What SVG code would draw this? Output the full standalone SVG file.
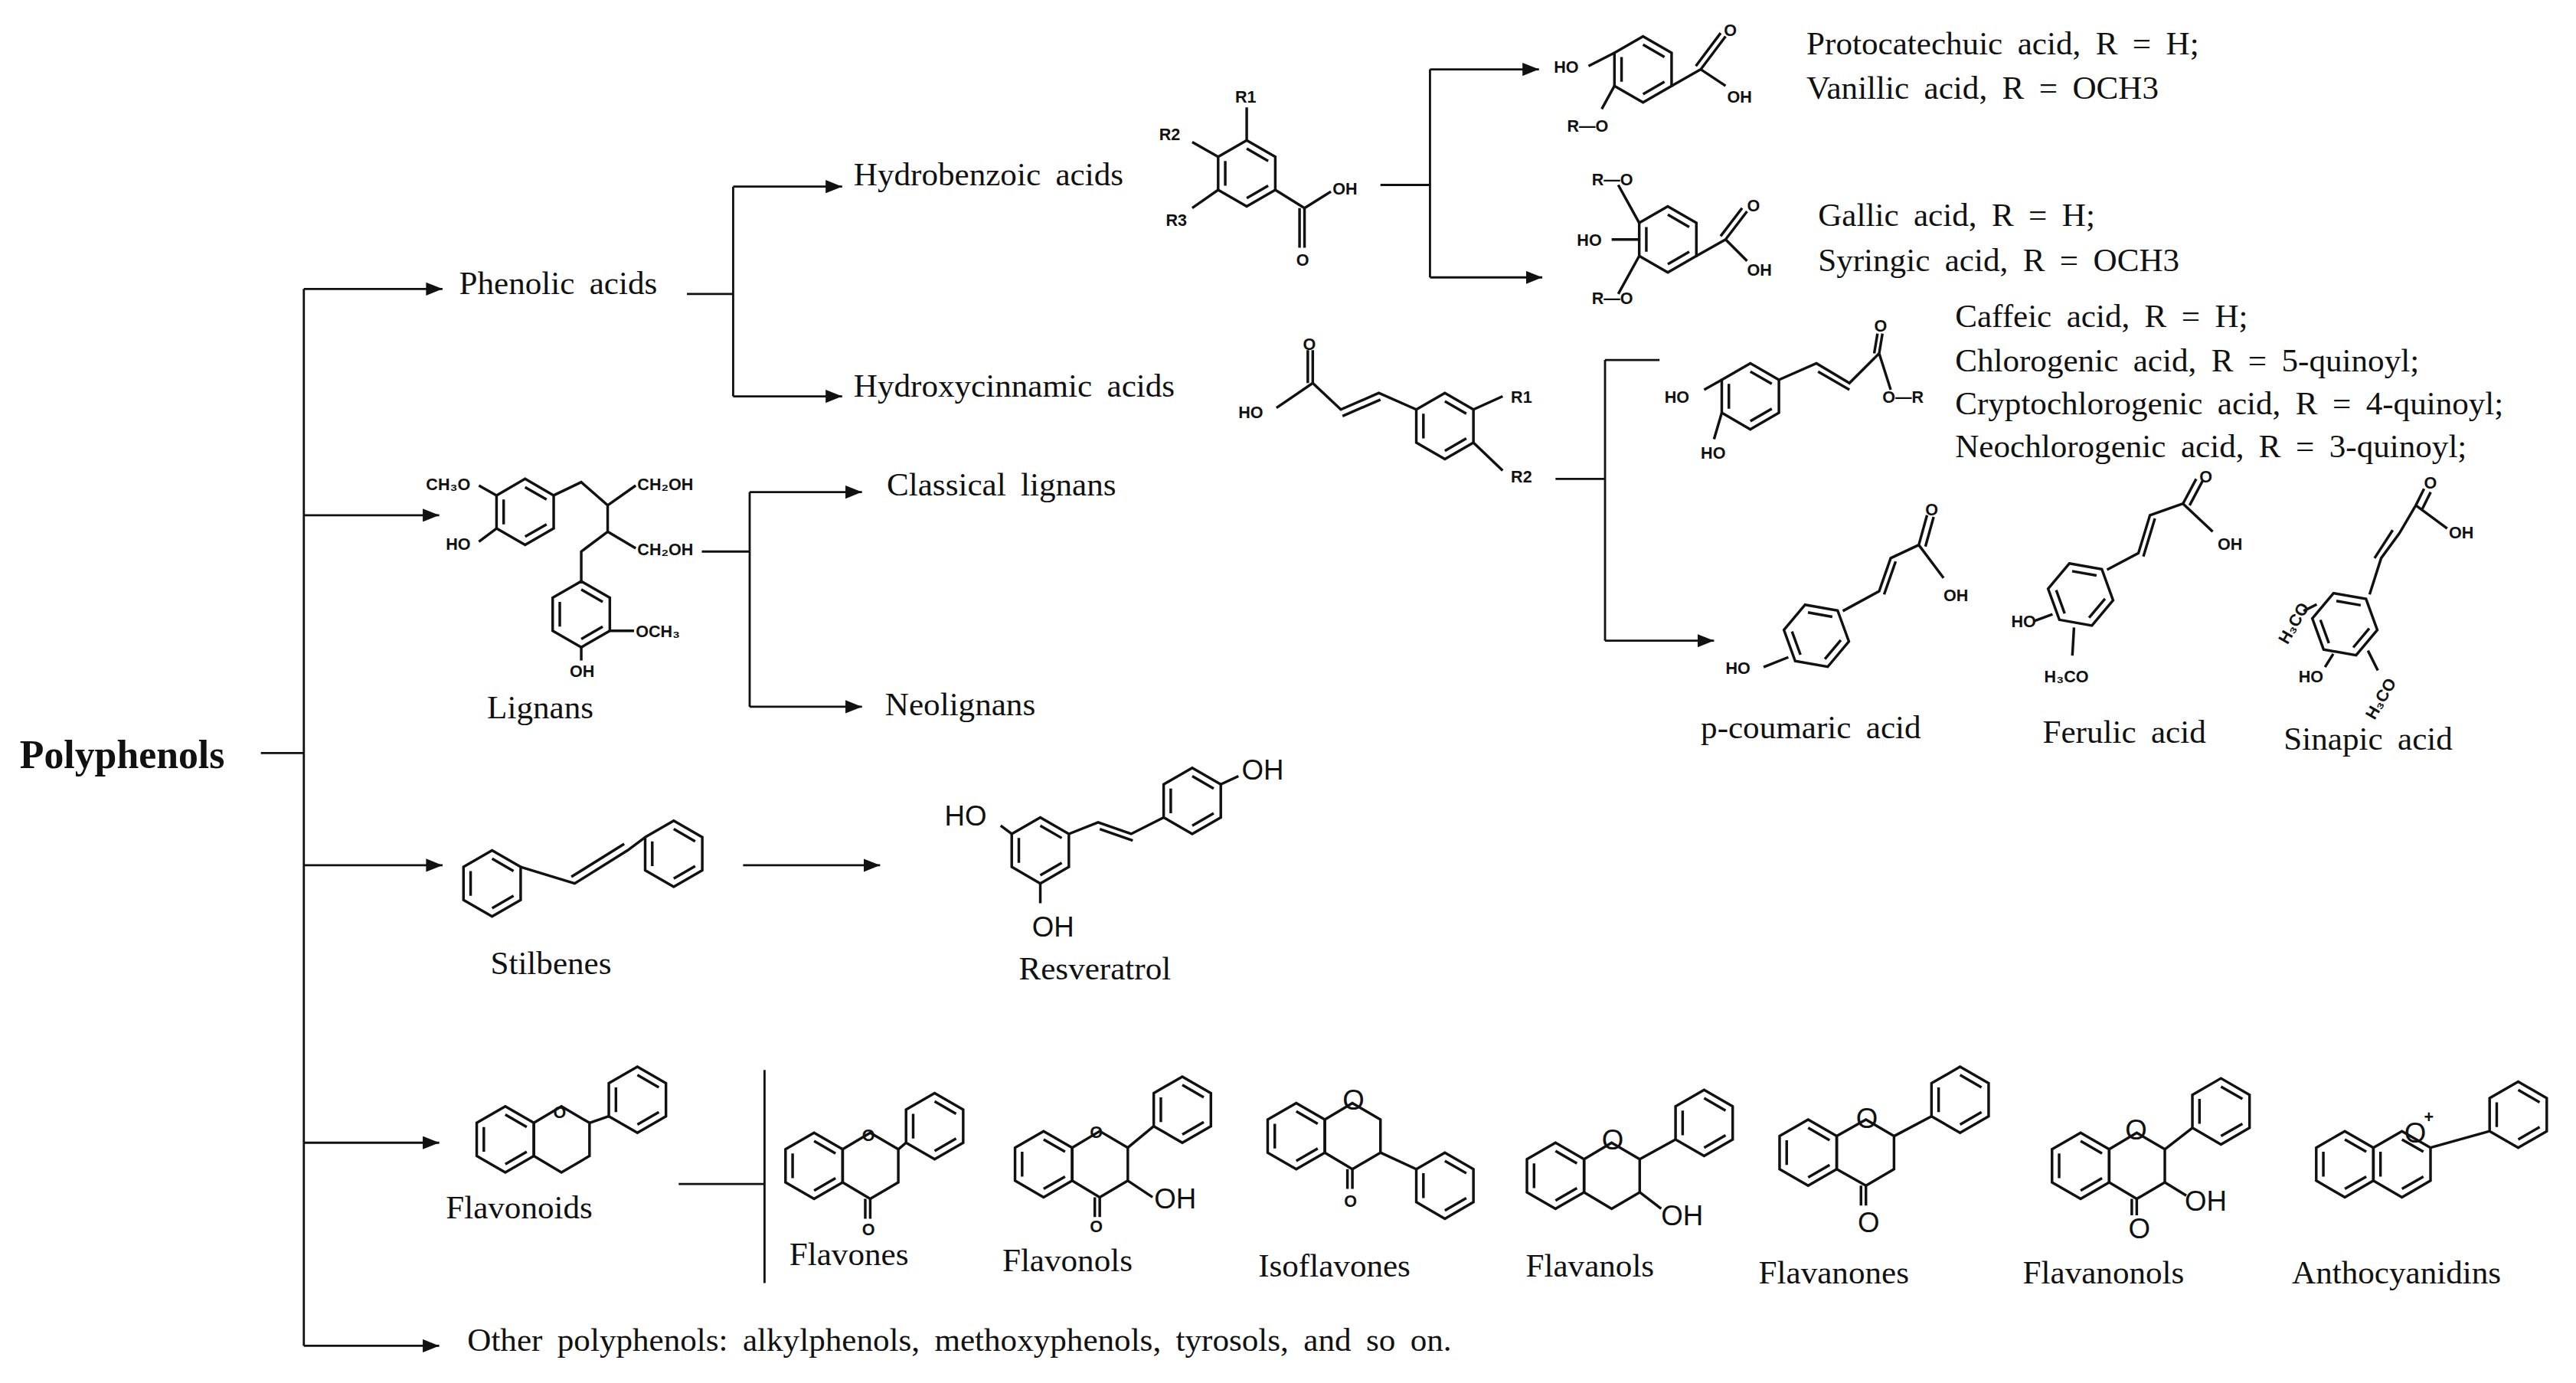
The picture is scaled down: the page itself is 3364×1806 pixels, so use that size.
<svg xmlns="http://www.w3.org/2000/svg" xmlns:xlink="http://www.w3.org/1999/xlink" width="3364" height="1806" viewBox="0 0 3364 1806">
<style>
.t{font-family:"Liberation Serif",serif;font-size:20px;word-spacing:4px;fill:#111}
.b{font-family:"Liberation Serif",serif;font-size:24px;font-weight:bold;fill:#111}
.s{font-family:"Liberation Sans",sans-serif;font-size:10px;font-weight:bold;fill:#111}
.m{font-family:"Liberation Sans",sans-serif;font-size:17px;fill:#111}
.ln{stroke:#111;stroke-width:1.3;fill:none}
.bd{stroke:#111;stroke-width:1.6;fill:none}
</style>
<defs>
<marker id="ar" markerUnits="userSpaceOnUse" markerWidth="10" markerHeight="8" refX="10" refY="4" orient="auto"><path d="M0,0 L10,4 L0,8 z" fill="#111"/></marker>
<g id="hx"><polygon points="0,-20 17.3,-10 17.3,10 0,20 -17.3,10 -17.3,-10" class="bd"/><path d="M0,-15 L13,-7.5 M13,7.5 L0,15 M-13,7.5 L-13,-7.5" class="bd"/></g>
</defs>
<rect width="3364" height="1806" fill="#fff"/>
<g transform="scale(2.1564)">
<g id="connectors">
<path class="ln" d="M158,456 H184 M184,175 V815"/>
<path class="ln" marker-end="url(#ar)" d="M184,175 H268"/>
<path class="ln" marker-end="url(#ar)" d="M184,312 H266"/>
<path class="ln" marker-end="url(#ar)" d="M184,524 H268"/>
<path class="ln" marker-end="url(#ar)" d="M184,692 H266"/>
<path class="ln" marker-end="url(#ar)" d="M184,815 H266"/>
<path class="ln" d="M416,178 H444 M444,113 V240"/>
<path class="ln" marker-end="url(#ar)" d="M444,113 H510"/>
<path class="ln" marker-end="url(#ar)" d="M444,240 H510"/>
<path class="ln" d="M836,112 H866 M866,42 V168"/>
<path class="ln" marker-end="url(#ar)" d="M866,42 H932"/>
<path class="ln" marker-end="url(#ar)" d="M866,168 H934"/>
<path class="ln" d="M942,290 H972 M972,218 V388 M972,218 H1005"/>
<path class="ln" marker-end="url(#ar)" d="M972,388 H1038"/>
<path class="ln" d="M425,334 H454 M454,298 V428"/>
<path class="ln" marker-end="url(#ar)" d="M454,298 H522"/>
<path class="ln" marker-end="url(#ar)" d="M454,428 H522"/>
<path class="ln" marker-end="url(#ar)" d="M450,524 H533"/>
<path class="ln" d="M411,717 H463 M463,648 V777"/>
</g>
<g id="polyphenols"><text class="b" x="12" y="465">Polyphenols</text></g>
<g id="phenolic"><text class="t" x="278" y="178">Phenolic acids</text></g>
<g id="hydrobenzoic"><text class="t" x="517" y="112">Hydrobenzoic acids</text>
<use href="#hx" x="755" y="105"/>
<path class="bd" d="M755,85 L755,65 M737.7,95 L722,86 M737.7,115 L722,126 M772.3,115 L790,126 M790,126 L806,116 M790,126 L790,150 M787,126 L787,150"/>
<text class="s" x="748" y="62">R1</text><text class="s" x="702" y="85">R2</text><text class="s" x="706" y="137">R3</text><text class="s" x="807" y="118">OH</text><text class="s" x="785" y="161">O</text>
</g>
<g id="protocatechuic">
<use href="#hx" x="995" y="42"/>
<path class="bd" d="M977.7,32 L962,40 M977.7,52 L970,66 M1012.3,52 L1030,42 M1030,42 L1045,52 M1030,42 L1045,22 M1027,40 L1042,20"/>
<text class="s" x="941" y="44">HO</text><text class="s" x="949" y="80">R—O</text><text class="s" x="1046" y="62">OH</text><text class="s" x="1044" y="22">O</text>
<text class="t" x="1094" y="33">Protocatechuic acid, R = H;</text>
<text class="t" x="1094" y="60">Vanillic acid, R = OCH3</text>
</g>
<g id="gallic">
<use href="#hx" x="1010" y="145"/>
<path class="bd" d="M992.7,135 L980,112 M992.7,155 L980,178 M992.7,145 L976,145 M1027.3,155 L1045,145 M1045,145 L1058,158 M1045,145 L1058,128 M1042,143 L1055,126"/>
<text class="s" x="964" y="112">R—O</text><text class="s" x="955" y="149">HO</text><text class="s" x="964" y="184">R—O</text><text class="s" x="1058" y="167">OH</text><text class="s" x="1058" y="128">O</text>
<text class="t" x="1101" y="137">Gallic acid, R = H;</text>
<text class="t" x="1101" y="164">Syringic acid, R = OCH3</text>
</g>
<g id="hydroxycinnamic"><text class="t" x="517" y="240">Hydroxycinnamic acids</text>
<use href="#hx" x="875" y="258"/>
<path class="bd" d="M857.7,248 L835,238 L812,248 L795,232 M836,242 L813,252 M795,232 L773,247 M795,232 L795,212 M792,232 L792,212 M892.3,248 L910,240 M892.3,268 L910,285"/>
<text class="s" x="750" y="253">HO</text><text class="s" x="789" y="212">O</text><text class="s" x="915" y="244">R1</text><text class="s" x="915" y="292">R2</text>
</g>
<g id="caffeic">
<use href="#hx" x="1060" y="240"/>
<path class="bd" d="M1077.3,230 L1100,220 L1120,232 L1138,214 M1101,225 L1120,236 M1138,214 L1140,202 M1135,214 L1137,202 M1138,214 L1145,236"/>
<path class="bd" d="M1042.7,230 L1032,236 M1042.7,250 L1038,266"/>
<text class="s" x="1008" y="244">HO</text><text class="s" x="1030" y="278">HO</text><text class="s" x="1135" y="201">O</text><text class="s" x="1140" y="244">O—R</text>
<text class="t" x="1184" y="198">Caffeic acid, R = H;</text>
<text class="t" x="1184" y="225">Chlorogenic acid, R = 5-quinoyl;</text>
<text class="t" x="1184" y="251">Cryptochlorogenic acid, R = 4-quinoyl;</text>
<text class="t" x="1184" y="277">Neochlorogenic acid, R = 3-quinoyl;</text>
</g>
<g id="pcoumaric">
<use href="#hx" x="1100" y="385" transform="rotate(-20 1100 385)"/>
<path class="bd" d="M1116,370 L1138,358 L1145,338 L1162,330 M1141,360 L1148,340 M1162,330 L1167,312 M1166,331 L1171,313 M1162,330 L1177,350 M1083,398 L1068,404"/>
<text class="s" x="1045" y="408">HO</text><text class="s" x="1166" y="312">O</text><text class="s" x="1177" y="364">OH</text>
<text class="t" x="1030" y="447">p-coumaric acid</text>
</g>
<g id="ferulic">
<use href="#hx" x="1260" y="360" transform="rotate(-20 1260 360)"/>
<path class="bd" d="M1276,345 L1295,335 L1302,312 L1322,305 M1298,337 L1305,314 M1322,305 L1330,290 M1326,306 L1334,291 M1322,305 L1340,322 M1243,372 L1232,376 M1256,380 L1255,397"/>
<text class="s" x="1218" y="380">HO</text><text class="s" x="1238" y="413">H₃CO</text><text class="s" x="1332" y="292">O</text><text class="s" x="1343" y="333">OH</text>
<text class="t" x="1237" y="450">Ferulic acid</text>
</g>
<g id="sinapic">
<g transform="translate(0,8)">
<use href="#hx" x="1420" y="370" transform="rotate(-20 1420 370)"/>
<path class="bd" d="M1435,352 L1442,330 L1453,315 L1463,298 M1438,330 L1449,313 M1463,298 L1468,288 M1467,300 L1472,290 M1463,298 L1482,312 M1403,358 L1395,362 M1413,388 L1408,396 M1434,386 L1440,398"/>
<text class="s" x="1378" y="380" transform="rotate(-60 1384 375)">H₃CO</text><text class="s" x="1392" y="405">HO</text><text class="s" x="1428" y="425" transform="rotate(-60 1436 418)">H₃CO</text><text class="s" x="1468" y="288">O</text><text class="s" x="1483" y="318">OH</text>
</g>
<text class="t" x="1383" y="454">Sinapic acid</text>
</g>
<g id="lignans">
<use href="#hx" x="318" y="310"/>
<path class="bd" d="M335.3,300 L352,292 L368,306 L385,294 M368,306 L368,322 L385,332 M368,322 L352,334 L352,352 M300.7,300 L290,294 M300.7,320 L290,328"/>
<use href="#hx" x="352" y="372"/>
<path class="bd" d="M369.3,382 L384,382 M352,392 L352,400"/>
<text class="s" x="258" y="297">CH₃O</text><text class="s" x="270" y="333">HO</text><text class="s" x="386" y="297">CH₂OH</text><text class="s" x="386" y="336">CH₂OH</text><text class="s" x="385" y="386">OCH₃</text><text class="s" x="345" y="410">OH</text>
<text class="t" x="295" y="435">Lignans</text>
</g>
<g id="classical"><text class="t" x="537" y="300">Classical lignans</text></g>
<g id="neolignans"><text class="t" x="536" y="433">Neolignans</text></g>
<g id="stilbenes">
<use href="#hx" x="298" y="535"/>
<use href="#hx" x="408" y="517"/>
<path class="bd" d="M315.3,525 L348,535 L380,515 L390.7,507 M346,531 L378,511"/>
<text class="t" x="297" y="590">Stilbenes</text>
</g>
<g id="resveratrol">
<use href="#hx" x="630" y="515"/>
<use href="#hx" x="722" y="485"/>
<path class="bd" d="M647.3,505 L665,498 L685,505 L704.7,495 M666,502 L686,509 M612.7,505 L606,500 M630,535 L630,547 M739.3,475 L750,470"/>
<text class="m" x="572" y="500">HO</text><text class="m" x="752" y="472">OH</text><text class="m" x="625" y="567">OH</text>
<text class="t" x="617" y="593">Resveratrol</text>
</g>
<g id="flavonoids">
<use href="#hx" x="306" y="690"/>
<polygon class="bd" points="323.3,680 340,670 357,680 357,700 340,710 323.3,700"/>
<use href="#hx" x="386" y="666"/>
<path class="bd" d="M357,680 L368.7,676"/>
<text class="s" x="335" y="677">O</text>
<text class="t" x="270" y="738">Flavonoids</text>
</g>
<g id="flavones">
<use href="#hx" x="493" y="706"/>
<polygon class="bd" points="510.3,696 527,686 544,696 544,716 527,726 510.3,716"/>
<use href="#hx" x="566" y="682"/>
<path class="bd" d="M544,696 L548.7,692 M527,726 L527,738 M524,726 L524,738"/>
<text class="s" x="522" y="691">O</text><text class="s" x="522" y="748">O</text>
<text class="t" x="478" y="766">Flavones</text>
</g>
<g id="flavonols">
<use href="#hx" x="632" y="705"/>
<polygon class="bd" points="649.3,695 666,685 683,695 683,715 666,725 649.3,715"/>
<use href="#hx" x="716" y="672"/>
<path class="bd" d="M683,695 L698.7,682 M683,715 L698,725 M666,725 L666,737 M663,725 L663,737"/>
<text class="s" x="660" y="689">O</text><text class="s" x="660" y="746">O</text><text class="m" x="699" y="732">OH</text>
<text class="t" x="607" y="770">Flavonols</text>
</g>
<g id="isoflavones">
<use href="#hx" x="785" y="688"/>
<polygon class="bd" points="802.3,678 819,668 836,678 836,698 819,708 802.3,698"/>
<use href="#hx" x="875" y="718"/>
<path class="bd" d="M836,698 L857.7,708 M819,708 L819,720 M816,708 L816,720"/>
<text class="m" x="813" y="672">O</text><text class="s" x="814" y="731">O</text>
<text class="t" x="762" y="773">Isoflavones</text>
</g>
<g id="flavanols">
<use href="#hx" x="942" y="712"/>
<polygon class="bd" points="959.3,702 976,692 993,702 993,722 976,732 959.3,722"/>
<use href="#hx" x="1032" y="680"/>
<path class="bd" d="M993,702 L1014.7,690 M993,722 L1006,732"/>
<text class="m" x="970" y="696">O</text><text class="m" x="1006" y="742">OH</text>
<text class="t" x="924" y="773">Flavanols</text>
</g>
<g id="flavanones">
<use href="#hx" x="1095" y="698"/>
<polygon class="bd" points="1112.3,688 1130,678 1147,688 1147,708 1130,718 1112.3,708"/>
<use href="#hx" x="1187" y="666"/>
<path class="bd" d="M1147,688 L1169.7,676 M1130,718 L1130,730 M1127,718 L1127,730"/>
<text class="m" x="1124" y="683">O</text><text class="m" x="1125" y="746">O</text>
<text class="t" x="1065" y="777">Flavanones</text>
</g>
<g id="flavanonols">
<use href="#hx" x="1260" y="706"/>
<polygon class="bd" points="1277.3,696 1294,686 1311,696 1311,716 1294,726 1277.3,716"/>
<use href="#hx" x="1345" y="673"/>
<path class="bd" d="M1311,696 L1327.7,683 M1311,716 L1324,724 M1294,726 L1294,736 M1291,726 L1291,736"/>
<text class="m" x="1287" y="690">O</text><text class="m" x="1289" y="750">O</text><text class="m" x="1323" y="733">OH</text>
<text class="t" x="1225" y="777">Flavanonols</text>
</g>
<g id="anthocyanidins">
<use href="#hx" x="1420" y="705"/>
<use href="#hx" x="1454.6" y="705"/>
<use href="#hx" x="1525" y="675"/>
<path class="bd" d="M1471.9,695 L1507.7,685"/>
<text class="m" x="1456" y="692">O</text><text class="s" x="1468" y="680">+</text>
<text class="t" x="1388" y="777">Anthocyanidins</text>
</g>
<g id="other"><text class="t" x="283" y="818">Other polyphenols: alkylphenols, methoxyphenols, tyrosols, and so on.</text></g>
</g>
</svg>
